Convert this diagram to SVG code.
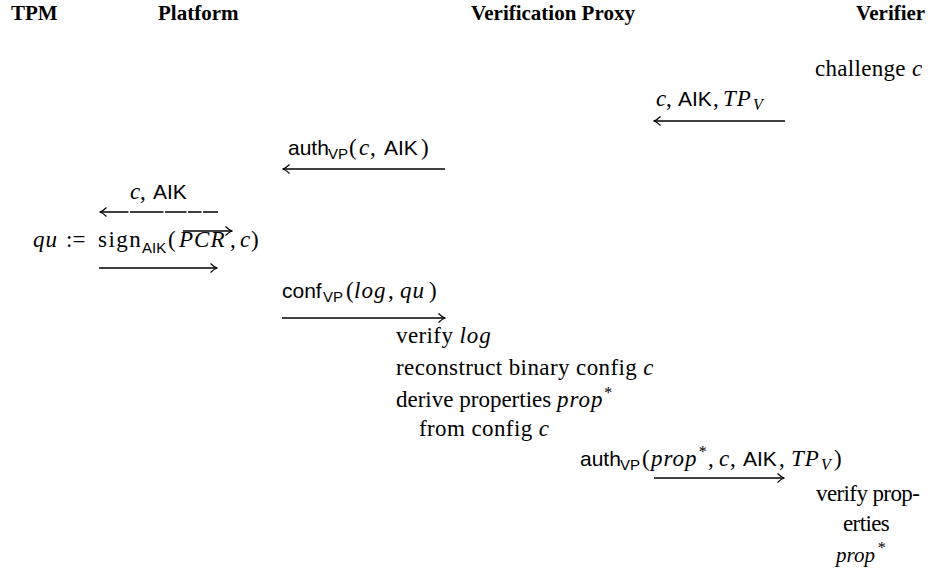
<svg xmlns="http://www.w3.org/2000/svg" width="932" height="580" viewBox="0 0 932 580">
<style>
.h{font-family:"Liberation Serif",serif;font-weight:bold;font-size:21px}
.t{font-family:"Liberation Serif",serif;font-size:23px}
.i{font-family:"Liberation Serif",serif;font-style:italic;font-size:23px;letter-spacing:1px}
.s{font-family:"Liberation Sans",sans-serif;font-size:21px}
.sub{font-family:"Liberation Sans",sans-serif;font-size:15px}
.subi{font-family:"Liberation Serif",serif;font-style:italic;font-size:16px}
.ln{stroke:#000;stroke-width:1.6;fill:none}
</style>
<defs>
<marker id="ah" viewBox="-8 -5 9 10" refX="0" refY="0" markerWidth="9" markerHeight="10" markerUnits="userSpaceOnUse" orient="auto">
<path d="M-6.5,-4.5 Q-3,-1 0,0 Q-3,1 -6.5,4.5" fill="none" stroke="#000" stroke-width="1.2"/>
</marker>
</defs>
<g id="headers">
<text class="h" x="11" y="20">TPM</text>
<text class="h" x="158" y="20">Platform</text>
<text class="h" x="471" y="20">Verification Proxy</text>
<text class="h" x="856" y="20">Verifier</text>
</g>
<g id="verifier-challenge"><text class="t" x="815" y="76" letter-spacing="0.3">challenge <tspan class="i">c</tspan></text></g>
<g id="msg1-label">
<text class="i" x="656" y="106">c</text><text class="t" x="666" y="106">,</text>
<text class="s" x="678" y="106">AIK</text><text class="t" x="713" y="106">,</text>
<text class="i" x="723" y="106">TP</text><text class="subi" x="753" y="110">V</text>
</g>
<g id="msg2-label">
<text class="s" x="288" y="155">auth</text><text class="sub" x="328" y="159">VP</text>
<text class="t" x="349" y="155">(</text><text class="i" x="359" y="155">c</text><text class="t" x="370" y="155">,</text>
<text class="s" x="384" y="155">AIK</text><text class="t" x="421" y="155">)</text>
</g>
<g id="msg3-label">
<text class="i" x="130" y="199">c</text><text class="t" x="140" y="199">,</text>
<text class="s" x="153" y="199">AIK</text>
</g>
<g id="tpm-sign">
<text class="i" x="33" y="247">qu</text>
<text class="t" x="66" y="247">:=</text>
<text class="t" x="98" y="247" letter-spacing="1.5">sign</text>
<text class="sub" x="142" y="253">AIK</text>
<text class="t" x="168" y="247">(</text>
<text class="i" x="179" y="247" letter-spacing="1.5">PCR</text>
<text class="t" x="230" y="247">,</text>
<text class="i" x="240" y="247">c</text>
<text class="t" x="251" y="247">)</text>
<line class="ln" x1="183" y1="231" x2="232" y2="231" marker-end="url(#ah)"/>
</g>
<g id="msg4-label">
<text class="s" x="282" y="298">conf</text><text class="sub" x="323" y="302">VP</text>
<text class="t" x="346" y="298">(</text><text class="i" x="354" y="298">log</text><text class="t" x="388" y="298">,</text>
<text class="i" x="400" y="298">qu</text><text class="t" x="429" y="298">)</text>
</g>
<g id="proxy-steps">
<text class="t" x="396" y="343" letter-spacing="0.4">verify <tspan class="i">log</tspan></text>
<text class="t" x="396" y="375" letter-spacing="0.4">reconstruct binary config <tspan class="i">c</tspan></text>
<text class="t" x="396" y="407" letter-spacing="0">derive properties <tspan class="i">prop</tspan><tspan class="subi" dy="-9">*</tspan></text>
<text class="t" x="419" y="436" letter-spacing="0.4">from config <tspan class="i">c</tspan></text>
</g>
<g id="msg5-label">
<text class="s" x="580" y="466">auth</text><text class="sub" x="620" y="470">VP</text>
<text class="t" x="642" y="466">(</text><text class="i" x="651" y="466">prop</text><text class="subi" x="698" y="457">*</text>
<text class="t" x="708" y="466">,</text><text class="i" x="719" y="466">c</text><text class="t" x="730" y="466">,</text>
<text class="s" x="743" y="466">AIK</text><text class="t" x="779" y="466">,</text>
<text class="i" x="791" y="466">TP</text><text class="subi" x="821" y="470">V</text>
<text class="t" x="834" y="466">)</text>
</g>
<g id="verifier-steps">
<text class="t" x="816" y="501" letter-spacing="-0.6">verify prop-</text>
<text class="t" x="843" y="531" letter-spacing="-0.6">erties</text>
<text class="i" x="836" y="562" style="font-size:21px;letter-spacing:0">prop</text><text class="subi" x="877" y="553">*</text>
</g>
<g id="connectors">
<line class="ln" x1="785" y1="121" x2="654" y2="121" marker-end="url(#ah)"/>
<line class="ln" x1="445" y1="169" x2="283" y2="169" marker-end="url(#ah)"/>
<line class="ln" x1="218" y1="212" x2="100" y2="212" stroke-dasharray="15 1.5 13.5 1.5 21.5 1.5 33.5 1.5 40" marker-end="url(#ah)"/>
<line class="ln" x1="99" y1="268" x2="217" y2="268" marker-end="url(#ah)"/>
<line class="ln" x1="282" y1="318" x2="445" y2="318" marker-end="url(#ah)"/>
<line class="ln" x1="654" y1="478" x2="784" y2="478" marker-end="url(#ah)"/>
</g>
</svg>
